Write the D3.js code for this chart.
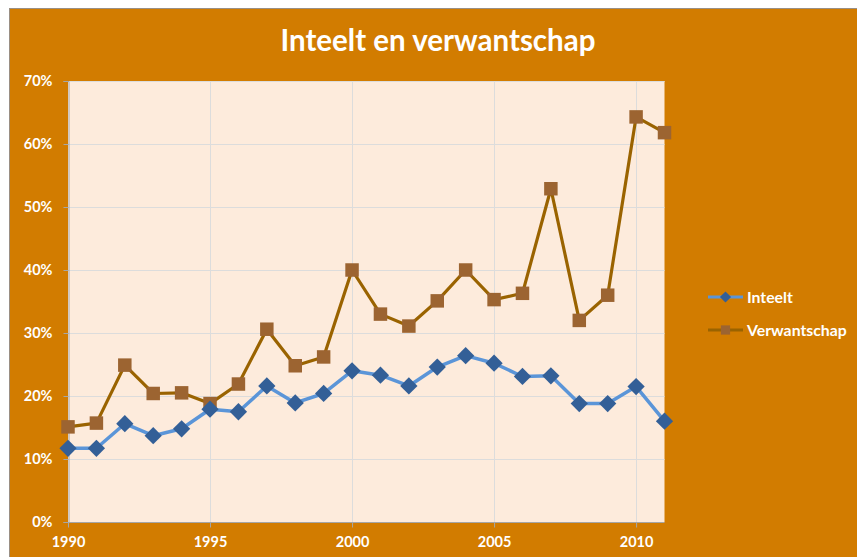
<!DOCTYPE html>
<html>
<head>
<meta charset="utf-8">
<script src="https://cdn.jsdelivr.net/npm/d3@7"></script>
<style>
  html, body { margin: 0; padding: 0; background: #ffffff; }
  svg { display: block; }
  text { font-family: Lato, "Open Sans", sans-serif; font-weight: 700; fill: #ffffff; }
</style>
</head>
<body>
<svg id="chart" width="857" height="557"></svg>
<script>
// Yearly shares (%) of marriages with inbreeding / kinship
const years = d3.range(1990, 2012);
const inteelt = [11.7, 11.7, 15.6, 13.7, 14.8, 17.9, 17.5, 21.6, 18.9, 20.4, 24.0,
                 23.3, 21.6, 24.6, 26.4, 25.2, 23.1, 23.2, 18.8, 18.8, 21.5, 16.0];
const verwantschap = [15.1, 15.7, 24.9, 20.4, 20.5, 18.8, 21.9, 30.6, 24.8, 26.2, 40.0,
                      33.0, 31.1, 35.1, 40.0, 35.3, 36.3, 52.9, 32.0, 36.0, 64.3, 61.8];
const yTicks = [0, 10, 20, 30, 40, 50, 60, 70];
const xTicks = [1990, 1995, 2000, 2005, 2010];
const seriesNames = ["Inteelt", "Verwantschap"];

const svg = d3.select("#chart");

// chart frame
svg.append("rect")
  .attr("x", 9.5).attr("y", 8.5).attr("width", 857).attr("height", 557)
  .attr("fill", "#D27C00").attr("stroke", "#9a8f84").attr("stroke-width", 1);

const plot = { left: 68, right: 664.5, top: 81, bottom: 522 };

const x = d3.scaleLinear().domain([1990, 2011]).range([plot.left, plot.right]);
const y = d3.scaleLinear().domain([0, 70]).range([plot.bottom, plot.top]);

// plot area background
svg.append("rect")
  .attr("x", plot.left).attr("y", plot.top)
  .attr("width", plot.right - plot.left).attr("height", plot.bottom - plot.top)
  .attr("fill", "#FDEBDC");

// gridlines
svg.append("g").selectAll("line").data(yTicks.slice(1)).join("line")
  .attr("x1", plot.left).attr("x2", plot.right)
  .attr("y1", d => Math.round(y(d)) + 0.5).attr("y2", d => Math.round(y(d)) + 0.5)
  .attr("stroke", "#DCDCDC").attr("stroke-width", 1);
svg.append("g").selectAll("line").data(xTicks.slice(1)).join("line")
  .attr("x1", d => Math.round(x(d)) + 0.5).attr("x2", d => Math.round(x(d)) + 0.5)
  .attr("y1", plot.top).attr("y2", plot.bottom)
  .attr("stroke", "#DCDCDC").attr("stroke-width", 1);

// axes
const yAxis = svg.append("g")
  .attr("transform", `translate(${plot.left + 0.5},0)`)
  .call(d3.axisLeft(y).tickValues(yTicks).tickFormat(d => d + "%").tickSize(5).tickPadding(11));
const xAxis = svg.append("g")
  .attr("transform", `translate(0,${plot.bottom + 0.5})`)
  .call(d3.axisBottom(x).tickValues(xTicks).tickFormat(d3.format("d")).tickSize(5).tickPadding(9));

[yAxis, xAxis].forEach(g => {
  g.select(".domain").attr("stroke", "#A6A6A6").attr("stroke-width", 1);
  g.selectAll(".tick line").attr("stroke", "#A6A6A6");
  g.selectAll(".tick text").attr("fill", "#ffffff").style("font-size", "14.5px")
    .style("font-family", "Lato, sans-serif").style("font-weight", "700");
});
xAxis.select(".domain").attr("d", `M${plot.left},0H${plot.right}`);

// title
svg.append("text")
  .attr("x", 438).attr("y", 51)
  .attr("text-anchor", "middle")
  .style("font-size", "29.5px")
  .text("Inteelt en verwantschap");

const line = d3.line().x((d, i) => x(years[i])).y(d => y(d));

const diamond = d3.symbol().type(d3.symbolDiamond2);
const square = d3.symbol().type(d3.symbolSquare);

// Verwantschap series
svg.append("path").datum(verwantschap)
  .attr("d", line).attr("fill", "none")
  .attr("stroke", "#9A6300").attr("stroke-width", 3.2).attr("stroke-linejoin", "round");
svg.append("g").selectAll("path").data(verwantschap).join("path")
  .attr("transform", (d, i) => `translate(${x(years[i])},${y(d)})`)
  .attr("d", square.size(182)())
  .attr("fill", "#9C6431");

// Inteelt series
svg.append("path").datum(inteelt)
  .attr("d", line).attr("fill", "none")
  .attr("stroke", "#5B95D8").attr("stroke-width", 3.5).attr("stroke-linejoin", "round");
svg.append("g").selectAll("path").data(inteelt).join("path")
  .attr("transform", (d, i) => `translate(${x(years[i])},${y(d)})`)
  .attr("d", diamond.size(190)())
  .attr("fill", "#335F97");

// legend
const legend = svg.append("g");
const legendItems = [
  { name: seriesNames[0], stroke: "#5B95D8", fill: "#335F97", sym: d3.symbolDiamond2, size: 80, y: 297 },
  { name: seriesNames[1], stroke: "#9A6300", fill: "#9C6431", sym: d3.symbolSquare, size: 85, y: 330 }
];
legendItems.forEach(it => {
  legend.append("line")
    .attr("x1", 708).attr("x2", 743).attr("y1", it.y).attr("y2", it.y)
    .attr("stroke", it.stroke).attr("stroke-width", 3.2);
  legend.append("path")
    .attr("transform", `translate(725.5,${it.y})`)
    .attr("d", d3.symbol().type(it.sym).size(it.size)())
    .attr("fill", it.fill);
  legend.append("text")
    .attr("x", 747).attr("y", it.y + 5.5)
    .style("font-size", "15.8px")
    .text(it.name);
});
</script>
</body>
</html>
